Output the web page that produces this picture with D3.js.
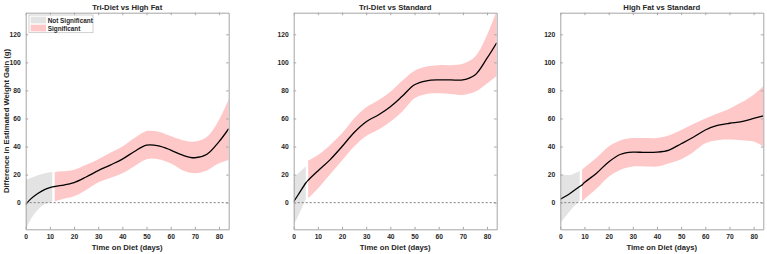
<!DOCTYPE html>
<html><head><meta charset="utf-8">
<script src="https://cdn.jsdelivr.net/npm/d3@7"></script>
<style>body{margin:0;background:#fff}svg{display:block}text{font-family:"Liberation Sans",Arial,sans-serif;font-weight:bold}</style>
</head><body><svg id="c" width="767" height="254"></svg>
<script>
const titles = ["Tri-Diet vs High Fat", "Tri-Diet vs Standard", "High Fat vs Standard"];
const xTicks = [0,10,20,30,40,50,60,70,80];
const yTicks = [0,20,40,60,80,100,120];
const legendLabels = ["Not Significant", "Significant"];
// last non-significant day / first significant day per panel
const nsEnd = [11, 5, 8];
const sigStart = [12, 6, 9];

const days1 = [0,2,5,8,11,12,15,20,25,30,35,40,45,50,55,60,65,70,75,80,84];
const mean1 = [-1.4,2.5,6.5,9.5,11.2,11.5,12.3,14.3,18.3,22.8,26.8,31,36.5,41,40.5,37.5,33.8,32,34.5,43.5,52.7];
const upper1 = [16,17.5,19.5,21,21.8,21.8,22.3,23.5,27,31,35.5,40,46,51,50.6,47.5,44.5,43.5,47,59,73.7];
const lower1 = [-20,-12,-5,-1,0.7,1,2.5,4.5,9,14.3,17.5,21,26,31,31,28,23,21,23,28,30.4];

const days2 = [0,2,5,6,10,15,20,25,30,35,40,45,50,55,60,65,70,75,80,84];
const mean2 = [0.7,6,14,16,22.6,30.5,40,50,57.7,62.5,68.4,76,84,86.8,87.5,87.5,87.5,91,103,114];
const upper2 = [18.5,21,25.7,30,34,41,49.4,60,68,73,79,87,94,97,98,98,99,104,119.5,137];
const lower2 = [-16,-9,2.4,3,10,20,30,40,47.5,52,57.7,65,74.4,77.5,78,77.5,76.8,79,85,90.3];

const days3 = [0,4,8,9,10,15,20,25,30,35,40,45,50,55,60,65,70,75,80,84];
const mean3 = [2.4,6.5,11.5,12.6,14.3,21,29,34.5,36,35.8,36,37.5,42,46.6,51.8,55,56.6,57.7,60,61.8];
const upper3 = [20.4,19.7,22.6,23.3,25,32,40,44.5,46,46,46,48,51.8,56,60,63.5,67,71.5,77,83];
const lower3 = [-14.7,-6,1.5,1,2.5,10,18.5,23.5,25.7,25.7,25.7,28,31,36,42.3,44.5,45,44.5,43.5,40];

const panels = [
  {days:days1, mean:mean1, upper:upper1, lower:lower1},
  {days:days2, mean:mean2, upper:upper2, lower:lower2},
  {days:days3, mean:mean3, upper:upper3, lower:lower3}
];

const svg = d3.select("#c");
const lefts = [25.7, 293.7, 560.3];
const W = 203, plotTop = 12.7, plotBottom = 229.3;
const axisCol = "#a6a6a6", textCol = "#262626";
const grayFill = "#e3e3e3", redFill = "#ffc8c8";
const curve = d3.curveCatmullRom.alpha(0.5);

panels.forEach((p, i) => {
  const x = d3.scaleLinear().domain([0, 84]).range([lefts[i], lefts[i] + W]);
  const y = d3.scaleLinear().domain([-19, 135.4]).range([plotBottom, plotTop]);
  const g = svg.append("g");
  const cid = "clip" + i;
  svg.append("clipPath").attr("id", cid).append("rect")
    .attr("x", x(0)).attr("y", plotTop).attr("width", W).attr("height", plotBottom - plotTop);
  const pts = p.days.map((d, k) => ({d, m: p.mean[k], u: p.upper[k], l: p.lower[k]}));
  const area = d3.area().x(o => x(o.d)).y0(o => y(o.l)).y1(o => y(o.u)).curve(curve);
  const plot = g.append("g").attr("clip-path", `url(#${cid})`);
  plot.append("path").datum(pts.filter(o => o.d <= nsEnd[i])).attr("d", area).attr("fill", grayFill);
  plot.append("path").datum(pts.filter(o => o.d >= sigStart[i])).attr("d", area).attr("fill", redFill);
  plot.append("line").attr("x1", x(0)).attr("x2", x(84)).attr("y1", y(0)).attr("y2", y(0))
    .attr("stroke", "#808080").attr("stroke-width", 1).attr("stroke-dasharray", "2,2");
  plot.append("path").datum(pts)
    .attr("d", d3.line().x(o => x(o.d)).y(o => y(o.m)).curve(curve))
    .attr("fill", "none").attr("stroke", "#000").attr("stroke-width", 1.3);

  const styleAxis = (sel) => {
    sel.select(".domain").attr("stroke", axisCol);
    sel.selectAll(".tick line").attr("stroke", axisCol);
    sel.selectAll("text").attr("fill", textCol).style("font-size", "6.7px");
  };
  g.append("g").attr("transform", `translate(0,${plotBottom})`)
    .call(d3.axisBottom(x).tickValues(xTicks).tickSize(-2.5).tickSizeOuter(0).tickPadding(5))
    .call(styleAxis);
  g.append("g").attr("transform", `translate(0,${plotTop})`)
    .call(d3.axisTop(x).tickValues(xTicks).tickSize(-2.5).tickSizeOuter(0).tickFormat(""))
    .call(styleAxis);
  g.append("g").attr("transform", `translate(${x(0)},0)`)
    .call(d3.axisLeft(y).tickValues(yTicks).tickSize(-2.5).tickSizeOuter(0).tickPadding(5))
    .call(styleAxis);
  g.append("g").attr("transform", `translate(${x(84)},0)`)
    .call(d3.axisRight(y).tickValues(yTicks).tickSize(-2.5).tickSizeOuter(0).tickFormat(""))
    .call(styleAxis);
  g.selectAll("g text").attr("font-family", null);

  g.append("text").attr("x", x(42)).attr("y", 9.5).attr("text-anchor", "middle")
    .attr("fill", textCol).style("font-size", "7.7px").text(titles[i]);
  g.append("text").attr("x", x(42)).attr("y", 250).attr("text-anchor", "middle")
    .attr("fill", textCol).style("font-size", "7.7px").text("Time on Diet (days)");

  if (i === 0) {
    g.append("text").attr("transform", `translate(8.5,121) rotate(-90)`).attr("text-anchor", "middle")
      .attr("fill", textCol).style("font-size", "7.7px").text("Difference in Estimated Weight Gain (g)");
    const lg = g.append("g");
    lg.append("rect").attr("x", 29).attr("y", 15).attr("width", 64).attr("height", 17.7)
      .attr("fill", "#fff").attr("stroke", "#bdbdbd").attr("stroke-width", 0.7);
    [grayFill, redFill].forEach((c, k) => {
      lg.append("rect").attr("x", 30.7).attr("y", 16.7 + k * 8).attr("width", 15.3).attr("height", 6.7).attr("fill", c);
      lg.append("text").attr("x", 47.7).attr("y", 22.5 + k * 8).attr("fill", textCol)
        .style("font-size", "6.4px").text(legendLabels[k]);
    });
  }
});
</script></body></html>
